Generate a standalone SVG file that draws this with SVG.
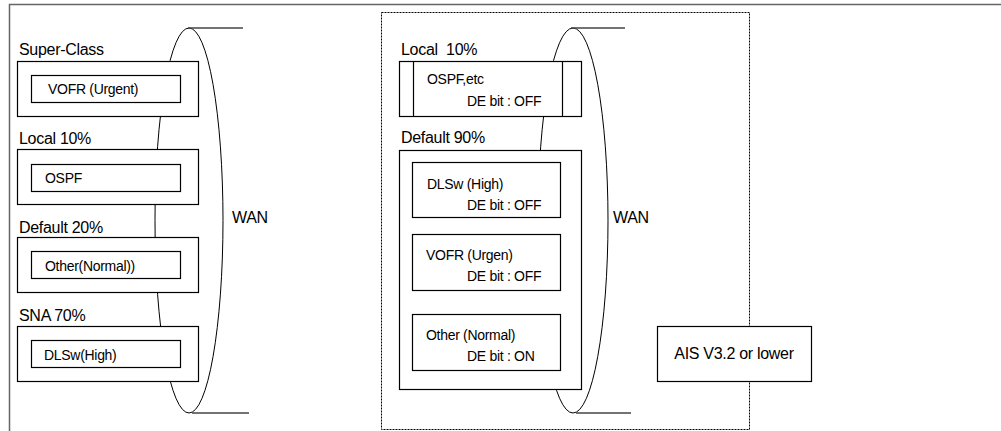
<svg xmlns="http://www.w3.org/2000/svg" width="1001" height="431" viewBox="0 0 1001 431">
<style>
  text { font-family: "Liberation Sans", Arial, sans-serif; fill: #000; }
  .lbl { font-size: 16px; letter-spacing: -0.3px; }
  .in { font-size: 14px; letter-spacing: -0.3px; }
  .box { fill: #fff; stroke: #000; stroke-width: 1.2; }
  .wan { fill: none; stroke: #000; stroke-width: 1; }
  .tick { stroke: #444; stroke-width: 1.3; }
</style>
<rect x="0" y="0" width="1001" height="431" fill="#fff"/>
<path d="M9.5,431 V4.5 H1001" fill="none" stroke="#666" stroke-width="1.5"/>
<rect x="381.5" y="12.5" width="368" height="417" fill="none" stroke="#000" stroke-width="1" stroke-dasharray="2,1"/>

<g id="connectors">
  <ellipse class="wan" cx="189" cy="220.5" rx="34" ry="192.5"/>
  <line class="tick" x1="188" y1="28" x2="243" y2="28"/>
  <line class="tick" x1="192" y1="413" x2="249" y2="413"/>
  <ellipse class="wan" cx="573" cy="220.5" rx="35" ry="192.5"/>
  <line class="tick" x1="571" y1="28" x2="625" y2="28"/>
  <line class="tick" x1="576" y1="413" x2="631" y2="413"/>
</g>

<g id="wan-left"><text class="lbl" x="232" y="223">WAN</text></g>
<g id="wan-right"><text class="lbl" x="613" y="223">WAN</text></g>

<g id="super-class">
  <text class="lbl" x="19" y="55">Super-Class</text>
  <rect class="box" x="17.5" y="61.5" width="181" height="55"/>
  <rect class="box" x="31.5" y="75.5" width="149" height="27"/>
  <text class="in" x="48" y="94">VOFR (Urgent)</text>
</g>
<g id="local-left">
  <text class="lbl" x="19" y="144">Local 10%</text>
  <rect class="box" x="17.5" y="149.5" width="181" height="55"/>
  <rect class="box" x="31.5" y="164.5" width="149" height="27"/>
  <text class="in" x="45" y="183">OSPF</text>
</g>
<g id="default-left">
  <text class="lbl" x="19" y="233">Default 20%</text>
  <rect class="box" x="17.5" y="237.5" width="181" height="55"/>
  <rect class="box" x="31.5" y="251.5" width="149" height="27"/>
  <text class="in" x="45" y="271">Other(Normal))</text>
</g>
<g id="sna-left">
  <text class="lbl" x="19" y="321">SNA 70%</text>
  <rect class="box" x="17.5" y="326.5" width="181" height="55"/>
  <rect class="box" x="31.5" y="340.5" width="149" height="27"/>
  <text class="in" x="44" y="360">DLSw(High)</text>
</g>

<g id="local-right">
  <text class="lbl" x="401" y="55" xml:space="preserve">Local  10%</text>
  <rect class="box" x="399.5" y="61.5" width="182" height="55"/>
  <line x1="413.5" y1="61.5" x2="413.5" y2="116.5" stroke="#000" stroke-width="1.2"/>
  <line x1="562.5" y1="61.5" x2="562.5" y2="116.5" stroke="#000" stroke-width="1.2"/>
  <text class="in" x="427" y="84">OSPF,etc</text>
  <text class="in" x="467" y="106">DE bit : OFF</text>
</g>
<g id="default-right">
  <text class="lbl" x="401" y="143">Default 90%</text>
  <rect class="box" x="399.5" y="150.5" width="182" height="239"/>
</g>
<g id="dlsw-right">
  <rect class="box" x="412.5" y="162.5" width="148" height="55"/>
  <text class="in" x="427" y="189">DLSw (High)</text>
  <text class="in" x="467" y="210">DE bit : OFF</text>
</g>
<g id="vofr-right">
  <rect class="box" x="412.5" y="234.5" width="148" height="56"/>
  <text class="in" x="426" y="260">VOFR (Urgen)</text>
  <text class="in" x="467" y="281">DE bit : OFF</text>
</g>
<g id="other-right">
  <rect class="box" x="412.5" y="314.5" width="148" height="56"/>
  <text class="in" x="426" y="340">Other (Normal)</text>
  <text class="in" x="467" y="361">DE bit : ON</text>
</g>

<g id="ais">
  <rect class="box" x="657.5" y="326.5" width="154" height="55"/>
  <text class="lbl" x="734" y="359" text-anchor="middle">AIS V3.2 or lower</text>
</g>
</svg>
